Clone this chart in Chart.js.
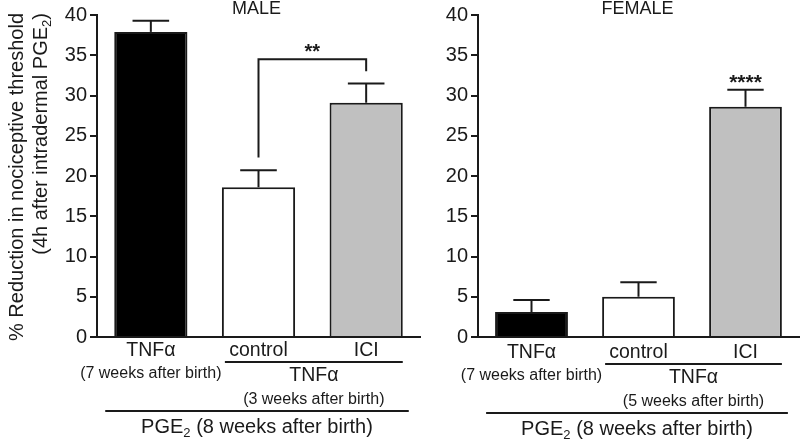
<!DOCTYPE html>
<html>
<head>
<meta charset="utf-8">
<script src="https://cdn.jsdelivr.net/npm/chart.js@4.4.0/dist/chart.umd.min.js"></script>
<style>
  html, body { margin: 0; padding: 0; background: #fff; }
  #wrap { position: relative; width: 800px; height: 440px; overflow: hidden; }
  #male { position: absolute; left: 0; top: 0; }
  #female { position: absolute; left: 400px; top: 0; }
</style>
</head>
<body>
<div id="wrap">
  <canvas id="male" width="430" height="440"></canvas>
  <canvas id="female" width="400" height="440"></canvas>
</div>
<script>
// values
const categories = ['TNFα', 'control', 'ICI'];
const maleMeans = [37.9, 18.6, 29.1];
const maleSem = [1.4, 2.1, 2.4];
const femaleMeans = [3.1, 5.0, 28.6];
const femaleSem = [1.5, 1.8, 2.1];
const barColors = ['#000000', '#ffffff', '#c0c0c0'];
const yMin = 0, yMax = 40, yStep = 5;
const panelTitles = ['MALE', 'FEMALE'];
const maleAges = ['(7 weeks after birth)', '(3 weeks after birth)'];
const femaleAges = ['(7 weeks after birth)', '(5 weeks after birth)'];
const groupLabel = 'PGE₂ (8 weeks after birth)';
const yTitle = ['% Reduction in nociceptive threshold', '(4h after intradermal PGE₂)'];

const INK = '#1a1a1a';
const FAMILY = "'Liberation Sans', Arial, sans-serif";

function font(size, weight) {
    return (weight || 'normal') + ' ' + size + 'px ' + FAMILY;
}

// text with '₂' drawn as a lowered small 2
function drawRich(ctx, str, x, y, size, align, weight) {
    const segs = str.split('₂');
    const subSize = size * 0.65;
    ctx.font = font(subSize, weight);
    const subW = ctx.measureText('2').width;
    ctx.font = font(size, weight);
    let total = (segs.length - 1) * subW;
    segs.forEach(s => { total += ctx.measureText(s).width; });
    let cx = align === 'center' ? x - total / 2 : (align === 'right' ? x - total : x);
    ctx.textAlign = 'left';
    segs.forEach((s, i) => {
        ctx.font = font(size, weight);
        ctx.fillText(s, cx, y);
        cx += ctx.measureText(s).width;
        if (i < segs.length - 1) {
            ctx.font = font(subSize, weight);
            ctx.fillText('2', cx, y + size * 0.22);
            cx += subW;
        }
    });
}

function line(ctx, x1, y1, x2, y2) {
    ctx.beginPath();
    ctx.moveTo(x1, y1);
    ctx.lineTo(x2, y2);
    ctx.stroke();
}

const decorations = {
    id: 'decorations',
    afterDatasetsDraw(chart) {
        const cfg = chart.options.plugins.decorations;
        const ctx = chart.ctx;
        const xs = chart.scales.x, ys = chart.scales.y;
        const bars = chart.getDatasetMeta(0).data;
        const means = chart.data.datasets[0].data;
        const sem = cfg.sem;
        const area = chart.chartArea;
        ctx.save();
        ctx.strokeStyle = INK;
        ctx.fillStyle = INK;
        ctx.lineWidth = 2;
        ctx.textBaseline = 'alphabetic';

        // error bars (upper half only)
        const tops = [];
        means.forEach((m, i) => {
            const x = xs.getPixelForValue(i);
            const yb = ys.getPixelForValue(m);
            const yt = ys.getPixelForValue(m + sem[i]);
            const hw = bars[i].width / 4;
            line(ctx, x, yb, x, yt);
            line(ctx, x - hw, yt, x + hw, yt);
            tops.push(m + sem[i]);
        });

        // significance marks
        const sig = cfg.sig;
        if (sig.bracket) {
            const a = sig.from, b = sig.to;
            const xa = xs.getPixelForValue(a), xb = xs.getPixelForValue(b);
            const top = ys.getPixelForValue(Math.max(tops[a], tops[b]) + 3);
            ctx.beginPath();
            ctx.moveTo(xa, ys.getPixelForValue(tops[a] + 1.6));
            ctx.lineTo(xa, top);
            ctx.lineTo(xb, top);
            ctx.lineTo(xb, ys.getPixelForValue(tops[b] + 1.5));
            ctx.stroke();
            drawRich(ctx, sig.text, (xa + xb) / 2, top - 1, 20, 'center', 'bold');
        } else {
            const x = xs.getPixelForValue(sig.at);
            drawRich(ctx, sig.text, x, ys.getPixelForValue(tops[sig.at]) - 1, 21, 'center', 'bold');
        }

        // panel title
        drawRich(ctx, cfg.title, (area.left + area.right) / 2 + cfg.titleShift, 14, 18, 'center');

        // category labels and grouping lines
        const b0 = area.bottom + cfg.dy;
        const c0 = xs.getPixelForValue(0), c1 = xs.getPixelForValue(1), c2 = xs.getPixelForValue(2);
        drawRich(ctx, categories[0], c0, b0 + 19, 19.5, 'center');
        drawRich(ctx, categories[1], c1, b0 + 19, 19.5, 'center');
        drawRich(ctx, categories[2], c2, b0 + 19, 19.5, 'center');
        drawRich(ctx, cfg.ages[0], c0, b0 + 41, 16, 'center');

        const subL = bars[1].x - bars[1].width / 2 + 3;
        const subR = bars[2].x + bars[2].width / 2;
        line(ctx, subL, b0 + 25, subR, b0 + 25);
        drawRich(ctx, categories[0], (subL + subR) / 2, b0 + 44, 19.5, 'center');
        drawRich(ctx, cfg.ages[1], (subL + subR) / 2, b0 + 67, 16, 'center');

        const grpL = bars[0].x - bars[0].width / 2 - 9;
        const grpR = bars[2].x + bars[2].width / 2 + 6;
        line(ctx, grpL, b0 + 74, grpR, b0 + 74);
        drawRich(ctx, groupLabel, (grpL + grpR) / 2, b0 + 96, 20, 'center');

        // y axis title
        if (cfg.yTitle) {
            [[23, yTitle[0]], [47, yTitle[1]]].forEach(([bx, txt]) => {
                ctx.save();
                ctx.translate(bx, 13);
                ctx.rotate(-Math.PI / 2);
                drawRich(ctx, txt, 0, 0, 20, 'right');
                ctx.restore();
            });
        }
        ctx.restore();
    }
};

function makePanel(id, means, sem, axisWidth, padRight, deco) {
    new Chart(document.getElementById(id), {
        type: 'bar',
        data: {
            labels: categories,
            datasets: [{
                data: means,
                backgroundColor: barColors,
                borderColor: INK,
                borderWidth: 2,
                barPercentage: 0.68,
                categoryPercentage: 1.0
            }]
        },
        options: {
            responsive: false,
            animation: false,
            layout: { padding: { left: 0, right: padRight, top: 15, bottom: 103 } },
            scales: {
                x: {
                    grid: { display: false },
                    ticks: { display: false },
                    border: { display: true, color: INK, width: 2 },
                    afterFit: s => { s.height = 0; }
                },
                y: {
                    min: yMin,
                    max: yMax,
                    ticks: {
                        stepSize: yStep,
                        color: INK,
                        padding: 3,
                        font: { family: FAMILY, size: 20 }
                    },
                    grid: {
                        drawOnChartArea: false,
                        drawTicks: true,
                        tickLength: 7,
                        color: INK,
                        lineWidth: 2
                    },
                    border: { display: true, color: INK, width: 2 },
                    afterFit: s => { s.width = axisWidth; }
                }
            },
            plugins: {
                legend: { display: false },
                tooltip: { enabled: false },
                decorations: Object.assign({ sem: sem }, deco)
            }
        },
        plugins: [decorations]
    });
}

makePanel('male', maleMeans, maleSem, 97, 10, {
    title: panelTitles[0],
    titleShift: -2,
    ages: maleAges,
    dy: 0,
    yTitle: true,
    sig: { bracket: true, from: 1, to: 2, text: '**' }
});

makePanel('female', femaleMeans, femaleSem, 78, 1, {
    title: panelTitles[1],
    titleShift: -1,
    ages: femaleAges,
    dy: 2,
    yTitle: false,
    sig: { bracket: false, at: 2, text: '****' }
});
</script>
</body>
</html>
